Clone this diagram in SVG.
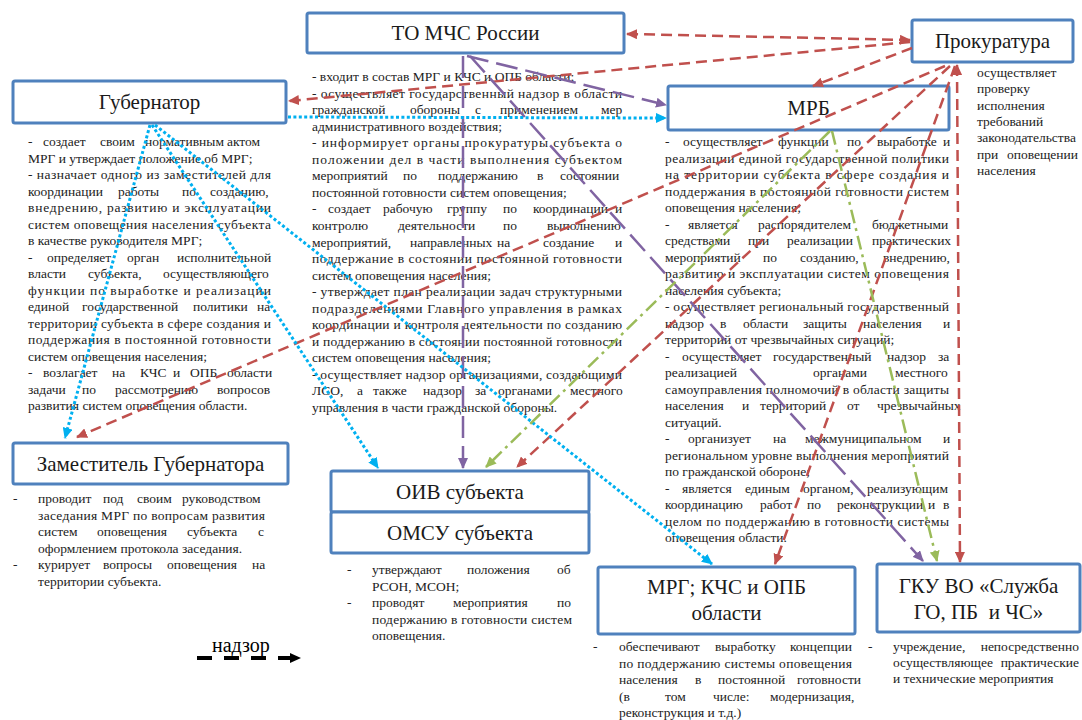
<svg xmlns="http://www.w3.org/2000/svg" width="1082" height="720" viewBox="0 0 1082 720">
<style>
.box{fill:#fff;stroke:#4F81BD;stroke-width:3}
.lbl{font-family:"Liberation Serif","Times New Roman",serif;font-size:21px;fill:#1a1a1a;text-anchor:middle}
.t{font-family:"Liberation Serif","Times New Roman",serif;font-size:13.5px;fill:#222}
.te{font-family:"Liberation Serif","Times New Roman",serif;font-size:13.5px;fill:#222;text-anchor:end}
.c{fill:none;stroke-width:2.5}
.red{stroke:#C0504D;stroke-dasharray:11 6}
.pur{stroke:#8064A2;stroke-dasharray:22 8}
.blu{stroke:#00B0F0;stroke-width:3;stroke-dasharray:3 2.4}
.grn{stroke:#9BBB59;stroke-dasharray:14 5 3 5}
</style>
<defs>
<marker id="aR" markerUnits="userSpaceOnUse" markerWidth="11" markerHeight="10" refX="10" refY="5" orient="auto-start-reverse"><path d="M0,0 L11,5 L0,10 Z" fill="#C0504D"/></marker>
<marker id="aP" markerUnits="userSpaceOnUse" markerWidth="11" markerHeight="10" refX="10" refY="5" orient="auto"><path d="M0,0 L11,5 L0,10 Z" fill="#8064A2"/></marker>
<marker id="aB" markerUnits="userSpaceOnUse" markerWidth="11" markerHeight="10" refX="10" refY="5" orient="auto"><path d="M0,0 L11,5 L0,10 Z" fill="#00B0F0"/></marker>
<marker id="aG" markerUnits="userSpaceOnUse" markerWidth="11" markerHeight="10" refX="10" refY="5" orient="auto"><path d="M0,0 L11,5 L0,10 Z" fill="#9BBB59"/></marker>
<marker id="aK" markerUnits="userSpaceOnUse" markerWidth="11" markerHeight="10" refX="10" refY="5" orient="auto"><path d="M0,0 L11,5 L0,10 Z" fill="#000"/></marker>
</defs>
<rect width="1082" height="720" fill="#fff"/>

<g id="to-mchs">
<rect class="box" x="307" y="13" width="317" height="40" rx="2"/>
<text class="lbl" x="465.5" y="40">ТО МЧС России</text>
<text class="t" x="312" y="81">- входит в состав МРГ и КЧС и ОПБ области;</text>
<text class="t" x="312" y="97.5" textLength="310" lengthAdjust="spacing">- осуществляет государственный надзор в области</text>
<text class="t" y="114.1"><tspan x="312">гражданской</tspan><tspan x="410">обороны</tspan><tspan x="475">с</tspan><tspan x="500">применением</tspan><tspan x="601">мер</tspan></text>
<text class="t" x="312" y="130.6">административного воздействия;</text>
<text class="t" x="312" y="147.2" textLength="310" lengthAdjust="spacing">- информирует органы прокуратуры субъекта о</text>
<text class="t" x="312" y="163.7" textLength="310" lengthAdjust="spacing">положении дел в части выполнения субъектом</text>
<text class="t" y="180.3"><tspan x="312">мероприятий</tspan><tspan x="403">по</tspan><tspan x="438">поддержанию</tspan><tspan x="537">в</tspan><tspan x="560">состоянии</tspan></text>
<text class="t" x="312" y="196.8">постоянной готовности систем оповещения;</text>
<text class="t" y="213.4"><tspan x="312">-</tspan><tspan x="328">создает</tspan><tspan x="383">рабочую</tspan><tspan x="447">группу</tspan><tspan x="503">по</tspan><tspan x="533">координации</tspan><tspan x="615">и</tspan></text>
<text class="t" y="229.9"><tspan x="312">контролю</tspan><tspan x="398">деятельности</tspan><tspan x="503">по</tspan><tspan x="547">выполнению</tspan></text>
<text class="t" y="246.5"><tspan x="312">мероприятий,</tspan><tspan x="410">направленных</tspan><tspan x="497">на</tspan><tspan x="543">создание</tspan><tspan x="615">и</tspan></text>
<text class="t" x="312" y="263" textLength="310" lengthAdjust="spacing">поддержание в состоянии постоянной готовности</text>
<text class="t" x="312" y="279.6">систем оповещения населения;</text>
<text class="t" x="312" y="296.1" textLength="310" lengthAdjust="spacing">- утверждает план реализации задач структурными</text>
<text class="t" x="312" y="312.7" textLength="310" lengthAdjust="spacing">подразделениями Главного управления в рамках</text>
<text class="t" x="312" y="329.2" textLength="310" lengthAdjust="spacing">координации и контроля деятельности по созданию</text>
<text class="t" x="312" y="345.8" textLength="310" lengthAdjust="spacing">и поддержанию в состоянии постоянной готовности</text>
<text class="t" x="312" y="362.3">систем оповещения населения;</text>
<text class="t" x="312" y="378.9" textLength="310" lengthAdjust="spacing">- осуществляет надзор организациями, создающими</text>
<text class="t" y="395.4"><tspan x="312">ЛСО,</tspan><tspan x="357">а</tspan><tspan x="373">также</tspan><tspan x="423">надзор</tspan><tspan x="475">за</tspan><tspan x="498">органами</tspan><tspan x="570">местного</tspan></text>
<text class="t" x="312" y="412">управления в части гражданской обороны.</text>
</g>

<g id="prokuratura">
<rect class="box" x="912" y="20" width="161" height="42" rx="2"/>
<text class="lbl" x="992.5" y="48">Прокуратура</text>
<text class="t" x="977" y="77">осуществляет</text>
<text class="t" x="977" y="93.3">проверку</text>
<text class="t" x="977" y="109.6">исполнения</text>
<text class="t" x="977" y="125.9">требований</text>
<text class="t" x="977" y="142.2">законодательства</text>
<text class="t" x="977" y="158.5">при</text>
<text class="te" x="1078" y="158.5">оповещении</text>
<text class="t" x="977" y="174.8">населения</text>
</g>

<g id="gubernator">
<rect class="box" x="13" y="81" width="273" height="42" rx="2"/>
<text class="lbl" x="149.5" y="109">Губернатор</text>
<text class="t" y="146"><tspan x="28">-</tspan><tspan x="43">создает</tspan><tspan x="100">своим</tspan><tspan x="145">нормативным</tspan><tspan x="227">актом</tspan></text>
<text class="t" x="28" y="162.5">МРГ и утверждает положение об МРГ;</text>
<text class="t" x="28" y="179" textLength="243" lengthAdjust="spacing">- назначает одного из заместителей для</text>
<text class="t" y="195.5"><tspan x="28">координации</tspan><tspan x="118">работы</tspan><tspan x="182">по</tspan><tspan x="210">созданию,</tspan></text>
<text class="t" x="28" y="212" textLength="243" lengthAdjust="spacing">внедрению, развитию и эксплуатации</text>
<text class="t" x="28" y="228.5" textLength="243" lengthAdjust="spacing">систем оповещения населения субъекта</text>
<text class="t" x="28" y="245">в качестве руководителя МРГ;</text>
<text class="t" y="261.5"><tspan x="28">-</tspan><tspan x="47">определяет</tspan><tspan x="127">орган</tspan><tspan x="177">исполнительной</tspan></text>
<text class="t" y="278"><tspan x="28">власти</tspan><tspan x="88">субъекта,</tspan><tspan x="163">осуществляющего</tspan></text>
<text class="t" x="28" y="294.5" textLength="243" lengthAdjust="spacing">функции по выработке и реализации</text>
<text class="t" y="311"><tspan x="28">единой</tspan><tspan x="82">государственной</tspan><tspan x="193">политики</tspan><tspan x="257">на</tspan></text>
<text class="t" x="28" y="327.5" textLength="243" lengthAdjust="spacing">территории субъекта в сфере создания и</text>
<text class="t" x="28" y="344" textLength="243" lengthAdjust="spacing">поддержания в постоянной готовности</text>
<text class="t" x="28" y="360.5">систем оповещения населения;</text>
<text class="t" y="377"><tspan x="28">-</tspan><tspan x="43">возлагает</tspan><tspan x="112">на</tspan><tspan x="140">КЧС</tspan><tspan x="173">и</tspan><tspan x="190">ОПБ</tspan><tspan x="227">области</tspan></text>
<text class="t" y="393.5"><tspan x="28">задачи</tspan><tspan x="82">по</tspan><tspan x="115">рассмотрению</tspan><tspan x="217">вопросов</tspan></text>
<text class="t" x="28" y="410">развития систем оповещения области.</text>
</g>

<g id="mrb">
<rect class="box" x="668" y="86" width="281" height="44" rx="2"/>
<text class="lbl" x="808.5" y="115">МРБ</text>
<text class="t" y="146"><tspan x="665">-</tspan><tspan x="683">осуществляет</tspan><tspan x="778">функции</tspan><tspan x="847">по</tspan><tspan x="877">выработке</tspan><tspan x="943">и</tspan></text>
<text class="t" x="665" y="162.5" textLength="284" lengthAdjust="spacing">реализации единой государственной политики</text>
<text class="t" x="665" y="179" textLength="284" lengthAdjust="spacing">на территории субъекта в сфере создания и</text>
<text class="t" x="665" y="195.5" textLength="284" lengthAdjust="spacing">поддержания в постоянной готовности систем</text>
<text class="t" x="665" y="212">оповещения населения;</text>
<text class="t" y="228.5"><tspan x="665">-</tspan><tspan x="688">является</tspan><tspan x="758">распорядителем</tspan><tspan x="872">бюджетными</tspan></text>
<text class="t" y="245"><tspan x="665">средствами</tspan><tspan x="748">при</tspan><tspan x="787">реализации</tspan><tspan x="872">практических</tspan></text>
<text class="t" y="261.5"><tspan x="665">мероприятий</tspan><tspan x="763">по</tspan><tspan x="800">созданию,</tspan><tspan x="883">внедрению,</tspan></text>
<text class="t" x="665" y="278" textLength="284" lengthAdjust="spacing">развитию и эксплуатации систем оповещения</text>
<text class="t" x="665" y="294.5">населения субъекта;</text>
<text class="t" x="665" y="311" textLength="284" lengthAdjust="spacing">- осуществляет региональный государственный</text>
<text class="t" y="327.5"><tspan x="665">надзор</tspan><tspan x="720">в</tspan><tspan x="743">области</tspan><tspan x="803">защиты</tspan><tspan x="863">населения</tspan><tspan x="943">и</tspan></text>
<text class="t" x="665" y="344">территорий от чрезвычайных ситуаций;</text>
<text class="t" y="360.5"><tspan x="665">-</tspan><tspan x="682">осуществляет</tspan><tspan x="773">государственный</tspan><tspan x="887">надзор</tspan><tspan x="938">за</tspan></text>
<text class="t" y="377"><tspan x="665">реализацией</tspan><tspan x="813">органами</tspan><tspan x="895">местного</tspan></text>
<text class="t" x="665" y="393.5" textLength="284" lengthAdjust="spacing">самоуправления полномочий в области защиты</text>
<text class="t" y="410"><tspan x="665">населения</tspan><tspan x="742">и</tspan><tspan x="760">территорий</tspan><tspan x="847">от</tspan><tspan x="877">чрезвычайных</tspan></text>
<text class="t" x="665" y="426.5">ситуаций.</text>
<text class="t" y="443"><tspan x="665">-</tspan><tspan x="688">организует</tspan><tspan x="773">на</tspan><tspan x="805">межмуниципальном</tspan><tspan x="943">и</tspan></text>
<text class="t" x="665" y="459.5" textLength="284" lengthAdjust="spacing">региональном уровне выполнения мероприятий</text>
<text class="t" x="665" y="476">по гражданской обороне;</text>
<text class="t" y="492.5"><tspan x="665">-</tspan><tspan x="682">является</tspan><tspan x="745">единым</tspan><tspan x="803">органом,</tspan><tspan x="867">реализующим</tspan></text>
<text class="t" y="509"><tspan x="665">координацию</tspan><tspan x="760">работ</tspan><tspan x="807">по</tspan><tspan x="837">реконструкции</tspan><tspan x="928">и</tspan><tspan x="943">в</tspan></text>
<text class="t" x="665" y="525.5" textLength="284" lengthAdjust="spacing">целом по поддержанию в готовности системы</text>
<text class="t" x="665" y="542">оповещения области.</text>
</g>

<g id="zam-gubernatora">
<rect class="box" x="13" y="443" width="275" height="41" rx="2"/>
<text class="lbl" x="150.5" y="470.5">Заместитель Губернатора</text>
<text class="t" x="13" y="503">-</text>
<text class="t" y="503"><tspan x="38">проводит</tspan><tspan x="103">под</tspan><tspan x="137">своим</tspan><tspan x="182">руководством</tspan></text>
<text class="t" x="38" y="519.6" textLength="227" lengthAdjust="spacing">заседания МРГ по вопросам развития</text>
<text class="t" y="536.2"><tspan x="38">систем</tspan><tspan x="97">оповещения</tspan><tspan x="187">субъекта</tspan><tspan x="258">с</tspan></text>
<text class="t" x="38" y="552.8">оформлением протокола заседания.</text>
<text class="t" x="13" y="569.4">-</text>
<text class="t" y="569.4"><tspan x="38">курирует</tspan><tspan x="103">вопросы</tspan><tspan x="167">оповещения</tspan><tspan x="252">на</tspan></text>
<text class="t" x="38" y="586">территории субъекта.</text>
</g>

<g id="oiv-omsu">
<rect class="box" x="331" y="471" width="258" height="41" rx="2"/>
<rect class="box" x="331" y="512" width="258" height="41" rx="2"/>
<text class="lbl" x="460" y="499">ОИВ субъекта</text>
<text class="lbl" x="460" y="540">ОМСУ субъекта</text>
<text class="t" x="347" y="574">-</text>
<text class="t" y="574"><tspan x="372">утверждают</tspan><tspan x="467">положения</tspan><tspan x="557">об</tspan></text>
<text class="t" x="372" y="590.5">РСОН, МСОН;</text>
<text class="t" x="347" y="607">-</text>
<text class="t" y="607"><tspan x="372">проводят</tspan><tspan x="453">мероприятия</tspan><tspan x="557">по</tspan></text>
<text class="t" x="372" y="623.5" textLength="200" lengthAdjust="spacing">подержанию в готовности систем</text>
<text class="t" x="372" y="640">оповещения.</text>
</g>

<g id="mrg-kchs">
<rect class="box" x="598" y="567" width="257" height="67" rx="2"/>
<text class="lbl" x="726.5" y="594">МРГ; КЧС и ОПБ</text>
<text class="lbl" x="726.5" y="620">области</text>
<text class="t" x="593" y="651">-</text>
<text class="t" y="651"><tspan x="619">обеспечивают</tspan><tspan x="715">выработку</tspan><tspan x="790">концепции</tspan></text>
<text class="t" x="619" y="667.5" textLength="233" lengthAdjust="spacing">по поддержанию системы оповещения</text>
<text class="t" y="684"><tspan x="619">населения</tspan><tspan x="695">в</tspan><tspan x="718">постоянной</tspan><tspan x="797">готовности</tspan></text>
<text class="t" y="700.5"><tspan x="619">(в</tspan><tspan x="665">том</tspan><tspan x="713">числе:</tspan><tspan x="770">модернизация,</tspan></text>
<text class="t" x="619" y="717">реконструкция и т.д.)</text>
</g>

<g id="gku-vo">
<rect class="box" x="877" y="564" width="203" height="68" rx="2"/>
<text class="lbl" x="978.5" y="593">ГКУ ВО «Служба</text>
<text class="lbl" x="978.5" y="619" xml:space="preserve">ГО, ПБ  и ЧС»</text>
<text class="t" x="868" y="651">-</text>
<text class="t" x="893" y="651">учреждение,</text>
<text class="te" x="1079" y="651">непосредственно</text>
<text class="t" x="893" y="667">осуществляющее</text>
<text class="te" x="1079" y="667">практические</text>
<text class="t" x="893" y="683">и технические мероприятия</text>
</g>

<g id="connectors">
<line class="c red" x1="910" y1="40" x2="627" y2="34" marker-start="url(#aR)" marker-end="url(#aR)"/>
<line class="c red" x1="910" y1="42" x2="289" y2="101" marker-end="url(#aR)"/>
<line class="c red" x1="912" y1="48" x2="813" y2="86" marker-end="url(#aR)"/>
<line class="c red" x1="945" y1="66" x2="77" y2="437" marker-end="url(#aR)"/>
<line class="c red" x1="950" y1="66" x2="517" y2="467" marker-end="url(#aR)"/>
<line class="c red" x1="955" y1="66" x2="775" y2="564" marker-end="url(#aR)"/>
<line class="c red" x1="957" y1="65" x2="960" y2="562" marker-start="url(#aR)" marker-end="url(#aR)"/>
<line class="c pur" x1="467" y1="56" x2="666" y2="105" marker-end="url(#aP)"/>
<line class="c pur" x1="463" y1="56" x2="463" y2="468" marker-end="url(#aP)"/>
<line class="c pur" x1="470" y1="56" x2="923" y2="561" marker-end="url(#aP)"/>
<line class="c blu" x1="288" y1="117" x2="666" y2="118" marker-end="url(#aB)"/>
<line class="c blu" x1="150" y1="125" x2="65" y2="438" marker-end="url(#aB)"/>
<line class="c blu" x1="152" y1="125" x2="378" y2="468" marker-end="url(#aB)"/>
<line class="c blu" x1="155" y1="125" x2="712" y2="564" marker-end="url(#aB)"/>
<line class="c grn" x1="830" y1="131" x2="486" y2="467" marker-end="url(#aG)"/>
<line class="c grn" x1="832" y1="131" x2="937" y2="561" marker-end="url(#aG)"/>
</g>

<g id="legend">
<text x="212" y="652" style="font-family:'Liberation Serif','Times New Roman',serif;font-size:20px;fill:#000">надзор</text>
<line x1="197" y1="658" x2="300" y2="658" stroke="#000" stroke-width="4" stroke-dasharray="15 12" marker-end="url(#aK)"/>
</g>
</svg>
